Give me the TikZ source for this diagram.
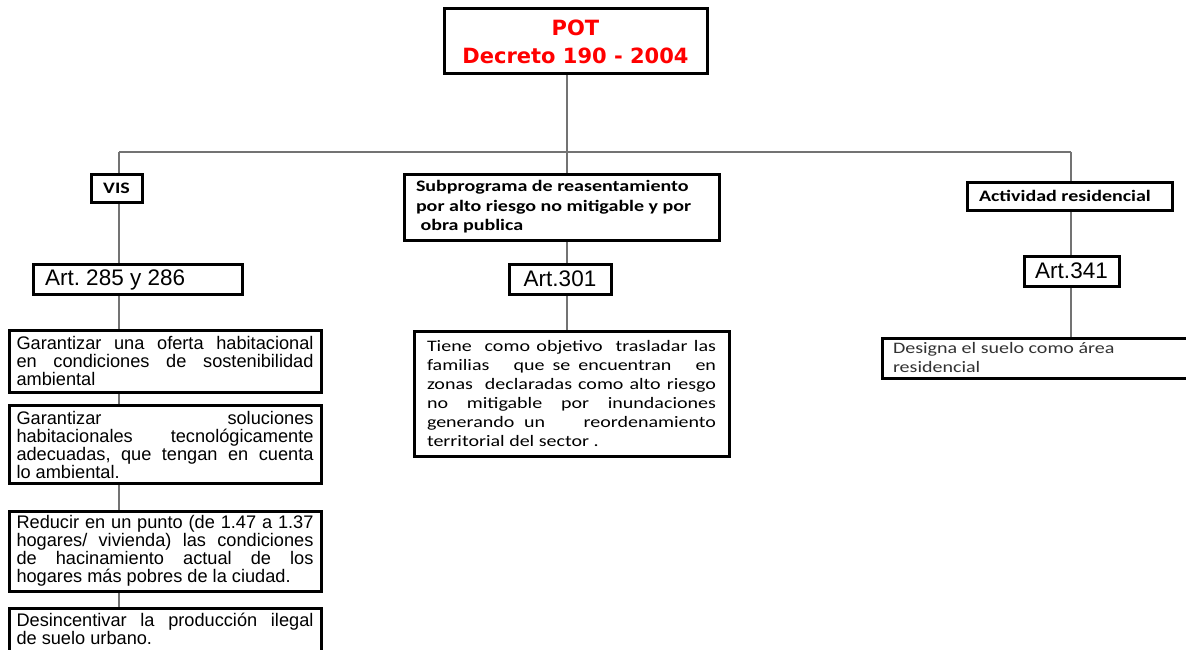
\documentclass[tikz,border=0pt]{standalone}
\usepackage{fontspec}
\setmainfont{Liberation Sans}
\newfontfamily\potfont{DejaVu Sans}
\newfontfamily\calfont[FakeStretch=1.25]{Carlito}
\usetikzlibrary{backgrounds}
\frenchspacing
% justified line of a given width (stretchable interword spaces)
\newcommand\jrow[2]{\makebox[#1][s]{\spaceskip=0pt\xspaceskip=0pt\relax#2}}
\newcommand\jl[1]{\jrow{297pt}{#1}}
\newcommand\jm[1]{\jrow{289pt}{#1}}
\begin{document}
\begin{tikzpicture}[x=1pt,y=-1pt,
  box/.style={draw=black, line width=3pt, fill=white, inner sep=0pt, rectangle,
    execute at begin node={\spaceskip=0pt\xspaceskip=0pt\relax}},
  link/.style={draw=black!55, line width=1.3pt},
  artbox/.style={box, minimum height=30pt, font=\fontsize{22.5}{26}\selectfont},
  headbox/.style={box, font=\calfont\bfseries\fontsize{16}{19.5}\selectfont},
  leftbox/.style={box, minimum width=312pt, text width=297pt, inner xsep=7.5pt,
    align=left, font=\fontsize{18.2}{18}\selectfont},
  calbox/.style={box, align=left, font=\calfont\fontsize{16}{19}\selectfont}]
\useasboundingbox (0,0) rectangle (1186,650);

% top node
\node[box, minimum width=263pt, minimum height=65pt, align=center, text=red,
  font=\potfont\bfseries\fontsize{21}{28}\selectfont] (pot) at (575.5,41.5)
  {POT\\Decreto 190 - 2004};

% left branch
\node[headbox, minimum width=51pt, minimum height=28pt] (vis) at (116.5,188) {VIS};
\node[artbox, minimum width=209pt, text width=185pt, inner xsep=12pt, align=left]
  (art1) at (137.5,279.5) {Art. 285 y 286};
\node[leftbox, minimum height=62pt] (g1) at (165,361)
  {\jl{Garantizar una oferta habitacional}\\
   \jl{en condiciones de sostenibilidad}\\
   ambiental};
\node[leftbox, minimum height=78pt] (g2) at (165,444.5)
  {\jl{Garantizar soluciones}\\
   \jl{habitacionales tecnológicamente}\\
   \jl{adecuadas, que tengan en cuenta}\\
   lo ambiental.};
\node[leftbox, minimum height=80pt] (g3) at (165,551)
  {\jl{Reducir en un punto (de 1.47 a 1.37}\\
   \jl{hogares/ vivienda) las condiciones}\\
   \jl{de hacinamiento actual de los}\\
   hogares más pobres de la ciudad.};
\node[leftbox, anchor=north, inner ysep=5pt] (g4) at (165,607)
  {\jl{Desincentivar la producción ilegal}\\
   de suelo urbano.\rule[-24pt]{0pt}{0pt}};

% middle branch
\node[headbox, minimum width=315pt, minimum height=66pt, text width=291pt,
  inner xsep=12pt, align=left] (sub) at (561.5,207)
  {Subprograma de reasentamiento\\por alto riesgo no mitigable y por\\\ obra publica};
\node[artbox, minimum width=102pt] (art2) at (560,279) {Art.301};
\node[calbox, minimum width=315pt, minimum height=125pt, text width=289pt,
  inner xsep=13pt] (tb) at (571.5,393.5)
  {\jm{Tiene\ \ como objetivo\ \ trasladar las}\\
   \jm{familias\ \ \ que se encuentran\ \ \ en}\\
   \jm{zonas\ \ declaradas como alto riesgo}\\
   \jm{no mitigable por inundaciones}\\
   \jm{generando un\ \ \ \ reordenamiento}\\
   territorial del sector .};

% right branch
\node[headbox, minimum width=205pt, minimum height=28pt, text width=181pt,
  inner xsep=12pt, align=left] (act) at (1069.5,196) {Actividad residencial};
\node[artbox, minimum width=95pt] (art3) at (1071.5,271) {Art.341};
\node[calbox, minimum width=318pt, minimum height=40pt, text width=296pt,
  inner xsep=11pt, text=black!80] (des) at (1041,358)
  {Designa el suelo como área\\residencial};

% connectors
\coordinate (cL) at (119,152);
\coordinate (cM) at (567,152);
\coordinate (cR) at (1071,152);
\begin{scope}[on background layer]
  \fill[white] (0,0) rectangle (1186,650);
  \draw[link] (cL) -- (cR);
  \draw[link] (pot.south -| cM) -- (cM) -- (sub.north -| cM);
  \draw[link] (cL) -- (vis.north -| cL);
  \draw[link] (vis.south -| cL) -- (art1.north -| cL);
  \draw[link] (art1.south -| cL) -- (g1.north -| cL);
  \draw[link] (g1.south -| cL) -- (g2.north -| cL);
  \draw[link] (g2.south -| cL) -- (g3.north -| cL);
  \draw[link] (g3.south -| cL) -- (g4.north -| cL);
  \draw[link] (sub.south -| cM) -- (art2.north -| cM);
  \draw[link] (art2.south -| cM) -- (tb.north -| cM);
  \draw[link] (cR) -- (act.north -| cR);
  \draw[link] (act.south -| cR) -- (art3.north -| cR);
  \draw[link] (art3.south -| cR) -- (des.north -| cR);
\end{scope}
\end{tikzpicture}
\end{document}
